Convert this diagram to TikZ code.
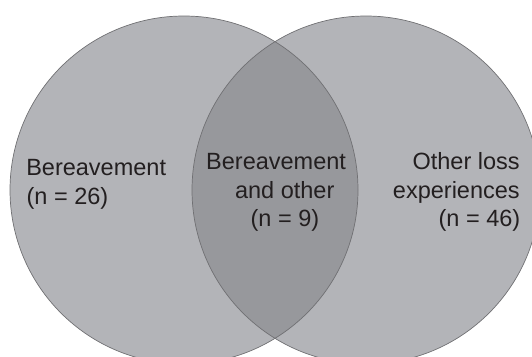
\documentclass[tikz,border=0pt]{standalone}
\usepackage{fontspec}
\setmainfont{Liberation Sans}
\definecolor{circfill}{RGB}{179,180,184}
\definecolor{lensfill}{RGB}{151,152,156}
\definecolor{edge}{RGB}{112,112,115}
\definecolor{txt}{RGB}{35,31,32}
\tikzset{
  lbl/.style={inner sep=0pt, text=txt, font=\fontsize{23.5}{28.5}\selectfont},
  ring/.style={draw=edge, line width=0.7pt}
}
\begin{document}
\begin{tikzpicture}[x=1pt,y=-1pt]
\useasboundingbox (0,0) rectangle (532,356);
\clip (0,0) rectangle (532,356);
\coordinate (cl) at (184,190);
\coordinate (cr) at (366,190);
\fill[circfill] (cl) circle[radius=174];
\fill[circfill] (cr) circle[radius=174];
\begin{scope}
  \clip (cl) circle[radius=174];
  \fill[lensfill] (cr) circle[radius=174];
\end{scope}
\draw[ring] (cl) circle[radius=174];
\draw[ring] (cr) circle[radius=174];
% left
\node[lbl, anchor=base west] (l1) at (26.1,175.8) {Bereavement};
\node[lbl, anchor=base west] (l2) at (26.4,204.6) {(n = 26)};
% middle
\node[lbl, anchor=base west] (m1) at (206.0,169.7) {Bereavement};
\node[lbl, anchor=base west] (m2) at (234.9,198.5) {and other};
\node[lbl, anchor=base west] (m3) at (250.4,226.7) {(n = 9)};
% right
\node[lbl, anchor=base east] (r1) at (519.9,169.7) {Other loss};
\node[lbl, anchor=base east] (r2) at (519.9,198.5) {experiences};
\node[lbl, anchor=base east] (r3) at (520.5,226.7) {(n = 46)};
\end{tikzpicture}
\end{document}
